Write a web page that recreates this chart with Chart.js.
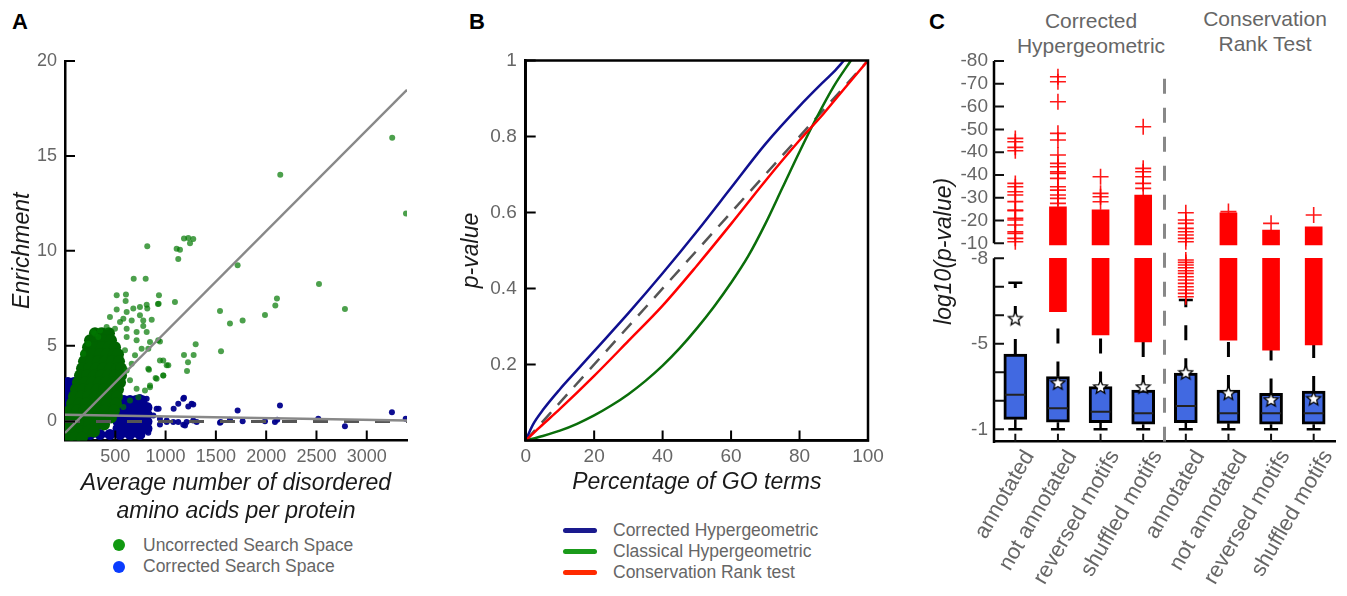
<!DOCTYPE html>
<html><head><meta charset="utf-8">
<script src="https://cdn.jsdelivr.net/npm/chart.js@4.4.1/dist/chart.umd.min.js"></script>
<style>
html,body{margin:0;padding:0;background:#fff;width:1347px;height:596px;overflow:hidden;font-family:"Liberation Sans",Arial,Helvetica,sans-serif;}
.abs{position:absolute;}
.letter{font-weight:bold;font-size:22px;line-height:22px;color:#000;}
.hdr{font-size:21px;line-height:25px;color:#666;text-align:center;width:200px;}
.legtxt{font-size:17.5px;line-height:21px;color:#666;white-space:nowrap;}
.dot{width:12px;height:12px;border-radius:6px;}
.ln{width:34px;height:5px;border-radius:2.5px;}
</style></head><body>
<div class="abs letter" style="left:12px;top:11px">A</div>
<div class="abs letter" style="left:469px;top:11px">B</div>
<div class="abs letter" style="left:929px;top:11px">C</div>
<div class="abs hdr" style="left:991px;top:8px">Corrected<br>Hypergeometric</div>
<div class="abs hdr" style="left:1165px;top:6px">Conservation<br>Rank Test</div>

<canvas id="cA" class="abs" style="left:0;top:0" width="430" height="530"></canvas>
<canvas id="cB" class="abs" style="left:440px;top:0" width="460" height="500"></canvas>
<canvas id="cC" class="abs" style="left:920px;top:0" width="427" height="596"></canvas>

<div class="abs dot" style="left:113px;top:539px;background:#119911"></div>
<div class="abs legtxt" style="left:143px;top:534.5px">Uncorrected Search Space</div>
<div class="abs dot" style="left:113px;top:560.7px;background:#0a3cff"></div>
<div class="abs legtxt" style="left:143px;top:556.2px">Corrected Search Space</div>

<div class="abs ln" style="left:563px;top:527.5px;background:#1a1a8e"></div>
<div class="abs legtxt" style="left:613px;top:519.5px">Corrected Hypergeometric</div>
<div class="abs ln" style="left:563px;top:548.5px;background:#1a9a1a"></div>
<div class="abs legtxt" style="left:613px;top:540.5px">Classical Hypergeometric</div>
<div class="abs ln" style="left:563px;top:569.5px;background:#ff2a00"></div>
<div class="abs legtxt" style="left:613px;top:561.5px">Conservation Rank test</div>

<script>
// ---------------- Panel A data ----------------
const xTicksA = [500, 1000, 1500, 2000, 2500, 3000];
const yTicksA = [1, 5, 10, 15, 20];
const yLabelsA = ['0', '5', '10', '15', '20'];
const fitUncorrected = [[0, 0.4], [3400, 18.48]];
const fitCorrected = [[0, 1.36], [3400, 1.06]];
const baselineA = [[0, 1], [3400, 1]];
const uncorrectedSpread = [
 [3253,15.95],[2140,14.0],[3390,11.96],[1716,9.23],[2525,8.25],[2107,7.48],[2091,7.12],[2783,6.93],
 [1541,6.82],[1766,6.32],[1640,6.16],[1988,6.61],[1551,4.71],[1299,5.07],[1183,4.5],[1279,4.5],
 [1223,4.13],[1213,3.66],[977,4.22],[1027,3.96],[944,5.22],[1093,7.3],[931,7.21],[862,6.37],
 [828,4.84],[977,3.43],[901,3.29],[835,3.73],[845,2.81],[778,6.03],
 [1183,10.64],[1226,10.67],[1275,10.62],[1243,10.4],[1110,10.1],[1143,10.05],[1126,9.57],[818,10.24],
 [802,8.53],[683,8.53],[514,7.65],[606,7.7],[934,7.65],[603,7.35],[924,7.19],[812,7.16],
 [514,6.9],[613,6.77],[679,6.95],[745,7.03],[818,6.95],[745,6.6],[580,6.42],[447,6.51],[547,6.24],
 [663,6.33],[778,6.33],[348,5.8],[298,5.63],[414,5.98],[497,5.89],[613,5.89],[712,5.72],[812,5.72],
 [845,5.19],[927,5.28],[762,4.84],[712,5.28],[613,5.45],[944,4.22],[1011,3.96],[828,3.78],[911,3.26],
 [977,3.43],[845,2.9],[795,2.64],[712,2.73],[646,3.17],[613,3.69],[663,4.05],[696,4.49],[596,4.75],
 [646,2.11],[580,1.76],[729,2.28],[281,5.72],[331,5.45],[232,5.1],[182,4.57]
];
const uncorrectedCore = [
 [298,5.65],[368,5.65],[437,5.65],
 [249,5.28],[318,5.28],[388,5.28],[457,5.28],
 [229,4.91],[298,4.91],[368,4.91],[437,4.91],[497,4.91],
 [209,4.54],[278,4.54],[348,4.54],[417,4.54],[487,4.54],[527,4.54],
 [189,4.17],[258,4.17],[328,4.17],[398,4.17],[467,4.17],[537,4.17],
 [169,3.8],[239,3.8],[308,3.8],[378,3.8],[447,3.8],[517,3.8],[557,3.8],
 [149,3.43],[219,3.43],[288,3.43],[358,3.43],[427,3.43],[497,3.43],[557,3.43],
 [129,3.06],[199,3.06],[268,3.06],[338,3.06],[408,3.06],[477,3.06],[547,3.06],
 [109,2.69],[179,2.69],[249,2.69],[318,2.69],[388,2.69],[457,2.69],[527,2.69],
 [89,2.32],[159,2.32],[229,2.32],[298,2.32],[368,2.32],[437,2.32],[517,2.32],
 [70,1.95],[139,1.95],[209,1.95],[278,1.95],[348,1.95],[417,1.95],[507,1.95],
 [50,1.58],[119,1.58],[189,1.58],[258,1.58],[328,1.58],[398,1.58],[487,1.58],
 [40,1.21],[109,1.21],[179,1.21],[249,1.21],[318,1.21],[388,1.21],[457,1.21],
 [30,0.84],[99,0.84],[169,0.84],[239,0.84],[308,0.84],[388,0.84],
 [20,0.47],[89,0.47],[159,0.47],[229,0.47],[288,0.47],
 [30,0.16],[99,0.16],[169,0.16]
];
const correctedSpread = [
 [1716,1.58],[2137,1.85],[3250,1.49],[1548,0.97],[1640,1.09],[1766,1.02],[1988,1.02],[2087,0.97],
 [2110,1.09],[2518,1.14],[2783,0.75],[3387,1.14],[1183,2.25],[1080,1.67],[1126,1.94],[1226,1.79],
 [1275,1.9],[931,1.67],[1176,0.83],[1209,0.97],[1275,1.06],[1541,0.93],[828,0.41],[1011,0.97],
 [1077,0.97],[812,2.2],[911,1.67],[1176,2.2],[1259,1.94],[1126,0.97],[1193,0.79],[1309,0.97],
 [944,0.84],[613,2.11],[745,2.29],[828,1.76],[878,1.32],[944,1.15],[1011,1.06],[745,0.88]
];
const correctedCore = [
 [30,3.06],[89,3.06],[30,2.69],[89,2.69],[30,2.32],[89,2.32],[30,1.95],[89,1.95],
 [30,1.58],[89,1.58],[30,1.21],[89,1.21],[30,0.84],[89,0.84],[30,0.47],[89,0.47],[139,2.9],[139,2.5],
 [527,2.11],[586,2.11],[646,2.11],[706,2.11],[765,2.11],
 [527,1.74],[586,1.74],[646,1.74],[706,1.74],[765,1.74],[815,1.74],
 [527,1.37],[586,1.37],[646,1.37],[706,1.37],[765,1.37],[815,1.37],
 [527,1.0],[586,1.0],[646,1.0],[706,1.0],[765,1.0],[815,1.0],
 [527,0.63],[586,0.63],[646,0.63],[706,0.63],[765,0.63],[815,0.63],
 [50,0.32],[149,0.32],[249,0.32],[348,0.32],[447,0.32],[547,0.32],[646,0.32],[745,0.32]
];

// ---------------- Panel B data ----------------
const pctTicks = [0, 20, 40, 60, 80, 100];
const pTicks = [0.2, 0.4, 0.6, 0.8, 1];
const correctedHyper = [[0,0],[2,0.04],[5,0.08],[10,0.135],[15,0.185],[20,0.235],[30,0.335],[40,0.44],[50,0.55],[60,0.665],[70,0.78],[80,0.88],[86,0.935],[90,0.97],[93,1.0]];
const classicalHyper = [[0,0],[5,0.012],[10,0.026],[15,0.044],[20,0.066],[25,0.092],[30,0.122],[35,0.157],[40,0.197],[45,0.243],[50,0.295],[55,0.352],[60,0.415],[65,0.485],[70,0.57],[75,0.665],[80,0.76],[85,0.85],[90,0.932],[95,1.0]];
const conservationRank = [[0,0],[4,0.034],[10,0.083],[20,0.17],[30,0.262],[40,0.355],[50,0.46],[60,0.57],[70,0.683],[80,0.79],[87,0.86],[93,0.925],[100,1.0]];
const diagonalB = [[0,0],[100,1]];

// ---------------- Panel C data (axis units of the broken axis) ----------------
const cCategories = ['annotated','not annotated','reversed motifs','shuffled motifs','annotated','not annotated','reversed motifs','shuffled motifs'];
const cTickPositions = [0,1,2,3,4,5,6,6.526,7.326,8.126,8.926,9.726,10.526,11.326,12.126,12.926];
const cTickLabels = ['-1','','','-5','','','-8','-10','-20','-30','-40','-40','-50','-60','-70','-80'];
const boxQ1 = [0.35,0.25,0.23,0.18,0.23,0.21,0.18,0.18];
const boxQ3 = [2.64,1.85,1.50,1.38,1.97,1.38,1.26,1.34];
const boxMedian = [1.21,0.74,0.62,0.56,0.82,0.56,0.56,0.56];
const whiskerLow = [0,0,0,0,0,0,0,0];
const whiskerHigh = [5.14,4.28,3.46,3.22,4.54,3.28,2.93,3.11];
const boxMean = [3.90,1.64,1.50,1.50,2.00,1.28,1.05,1.09];
const denseLowStart = [null,4.13,3.31,3.07,null,3.13,2.78,2.96];
const denseLowEnd = 6.0;
const denseHighStart = 6.47;
const denseHighEnd = [null,7.81,7.70,8.22,null,7.60,6.99,7.11];
const outliers = [
 [0,10.21],[0,10.09],[0,9.895],[0,9.775],[0,8.631],[0,8.512],[0,8.337],[0,8.221],[0,7.99],[0,7.695],[0,7.67],
 [0,7.403],[0,7.344],[0,7.17],[0,6.933],[0,6.877],[0,6.702],[0,6.582],
 [1,12.372],[1,12.197],[1,11.495],[1,10.386],[1,10.151],[1,9.625],[1,9.333],[1,9.214],[1,9.039],[1,8.982],
 [1,8.807],[1,8.512],[1,8.396],[1,8.221],[1,8.105],[1,7.93],
 [2,8.863],[2,8.281],[2,8.161],[2,7.986],
 [3,10.617],[3,9.158],[3,9.039],[3,8.863],[3,8.631],[3,8.456],
 [4,7.6],[4,7.344],[4,7.228],[4,7.052],[4,6.933],[4,6.818],[4,6.702],[4,6.582],
 [4,5.94],[4,5.858],[4,5.765],[4,5.67],[4,5.565],[4,5.473],[4,5.354],[4,5.239],[4,5.122],[4,5.003],[4,4.887],[4,4.77],[4,4.652],
 [5,7.64],[6,7.228],[7,7.519]
];
const separatorX = 3.5;
const separatorSpan = [-0.435, 12.4];

// ---------------- helpers ----------------
Chart.defaults.font.family = '"Liberation Sans", Arial, Helvetica, sans-serif';
Chart.defaults.color = '#666';
const pts = arr => arr.map(([x, y]) => ({x, y}));

const decor = {
  id: 'decor',
  afterDraw(chart, args, o) {
    const ctx = chart.ctx, ca = chart.chartArea;
    ctx.save();
    ctx.lineCap = 'butt';
    if (o.frame) {
      ctx.strokeStyle = '#000'; ctx.lineWidth = o.frame;
      ctx.strokeRect(ca.left, ca.top, ca.right - ca.left, ca.bottom - ca.top);
    }
    if (o.breakLow !== undefined) {
      const s = chart.scales.y;
      ctx.strokeStyle = '#000'; ctx.lineWidth = 2.5;
      ctx.beginPath();
      ctx.moveTo(ca.left, ca.bottom + 1.25);
      ctx.lineTo(ca.left, s.getPixelForValue(o.breakLow));
      ctx.moveTo(ca.left, s.getPixelForValue(o.breakHigh));
      ctx.lineTo(ca.left, ca.top);
      ctx.stroke();
    }
    ctx.strokeStyle = o.tickColor || '#000';
    ctx.lineWidth = o.tickWidth || 2;
    if (o.tickX) {
      const s = chart.scales.x; ctx.beginPath();
      s.ticks.forEach(t => { const p = s.getPixelForValue(t.value); ctx.moveTo(p, ca.bottom); ctx.lineTo(p, ca.bottom - o.tickX); });
      ctx.stroke();
    }
    if (o.tickY) {
      const s = chart.scales.y; ctx.beginPath();
      s.ticks.forEach(t => { const p = s.getPixelForValue(t.value); ctx.moveTo(ca.left, p); ctx.lineTo(ca.left + o.tickY, p); });
      ctx.stroke();
    }
    ctx.restore();
  }
};

const common = {
  responsive: false, animation: false, events: [],
  plugins: { legend: { display: false }, tooltip: { enabled: false } }
};

// ---------------- Panel A ----------------
new Chart(document.getElementById('cA'), {
  type: 'scatter',
  data: { datasets: [
    { type: 'line', data: pts(fitUncorrected), borderColor: '#888', borderWidth: 2.5, pointRadius: 0, order: 0 },
    { type: 'line', data: pts(fitCorrected), borderColor: '#888', borderWidth: 2.5, pointRadius: 0, order: 0 },
    { type: 'line', data: pts(baselineA), borderColor: '#555', borderWidth: 3, borderDash: [15, 16], pointRadius: 0, order: 1 },
    { data: pts(uncorrectedSpread), backgroundColor: 'rgba(0,120,0,0.7)', borderWidth: 0, pointRadius: 3, order: 2 },
    { data: pts(uncorrectedCore), backgroundColor: 'rgb(0,100,0)', borderWidth: 0, pointRadius: 6, order: 3 },
    { data: pts(correctedSpread), backgroundColor: 'rgba(0,0,140,0.95)', borderWidth: 0, pointRadius: 3, order: 4 },
    { data: pts(correctedCore), backgroundColor: 'rgb(0,0,140)', borderWidth: 0, pointRadius: 5.5, order: 5 }
  ]},
  options: { ...common,
    layout: { padding: { top: 61, right: 23, left: 0, bottom: 0 } },
    plugins: { ...common.plugins, decor: { tickX: 10, tickY: 10, tickWidth: 2 } },
    scales: {
      x: { type: 'linear', min: 0, max: 3400,
        afterBuildTicks: s => { s.ticks = xTicksA.map(v => ({ value: v })); },
        afterFit: s => { s.height = 530 - 440.5; },
        grid: { display: false, drawTicks: false }, border: { display: true, color: '#000', width: 2.5 },
        ticks: { padding: 6, font: { size: 18 }, color: '#666', autoSkip: false, maxRotation: 0, callback: v => String(v) },
        title: { display: true, text: ['Average number of disordered', 'amino acids per protein'], color: '#1a1a1a',
          font: { size: 23, style: 'italic', lineHeight: 1.235 }, padding: { top: 0, bottom: 4 } } },
      y: { type: 'linear', min: 0, max: 20,
        afterBuildTicks: s => { s.ticks = yTicksA.map(v => ({ value: v })); },
        afterFit: s => { s.width = 65; },
        grid: { display: false, drawTicks: false }, border: { display: true, color: '#000', width: 2.5 },
        ticks: { padding: 8, font: { size: 18 }, color: '#666', autoSkip: false, callback: (v, i) => yLabelsA[i] },
        title: { display: true, text: 'Enrichment', color: '#1a1a1a', font: { size: 23, style: 'italic' }, padding: { top: 9, bottom: 0 } } }
    }
  },
  plugins: [decor]
});

// ---------------- Panel B ----------------
const lineB = (d, color, extra) => Object.assign({ data: pts(d), showLine: true, borderColor: color, borderWidth: 2.5, pointRadius: 0, cubicInterpolationMode: 'monotone', fill: false }, extra || {});
new Chart(document.getElementById('cB'), {
  type: 'scatter',
  data: { datasets: [
    lineB(correctedHyper, '#101090', { order: 1 }),
    lineB(classicalHyper, '#0a6e0a', { order: 2 }),
    lineB(conservationRank, '#ff0000', { order: 0 }),
    lineB(diagonalB, '#555', { borderDash: [14, 10], order: 3 })
  ]},
  options: { ...common,
    layout: { padding: { top: 60.5, right: 32, left: 0, bottom: 0 } },
    plugins: { ...common.plugins, decor: { frame: 2.5, tickX: 10, tickY: 10, tickWidth: 2 } },
    scales: {
      x: { type: 'linear', min: 0, max: 100,
        afterBuildTicks: s => { s.ticks = pctTicks.map(v => ({ value: v })); },
        afterFit: s => { s.height = 500 - 440.5; },
        grid: { display: false, drawTicks: false }, border: { display: true, color: '#000', width: 2.5 },
        ticks: { padding: 5, font: { size: 19 }, color: '#666', autoSkip: false, maxRotation: 0, callback: v => String(v) },
        title: { display: true, text: 'Percentage of GO terms', color: '#1a1a1a', font: { size: 23, style: 'italic' }, padding: { top: 0, bottom: 3.5 } } },
      y: { type: 'linear', min: 0, max: 1,
        afterBuildTicks: s => { s.ticks = pTicks.map(v => ({ value: v })); },
        afterFit: s => { s.width = 85.7; },
        grid: { display: false, drawTicks: false }, border: { display: true, color: '#000', width: 2.5 },
        ticks: { padding: 9, font: { size: 19 }, color: '#666', autoSkip: false, callback: v => String(v) },
        title: { display: true, text: 'p-value', color: '#1a1a1a', font: { size: 23, style: 'italic' }, padding: { top: 18, bottom: 0 } } }
    }
  },
  plugins: [decor]
});

// ---------------- Panel C ----------------
function makeStar(size) {
  const c = document.createElement('canvas'); c.width = c.height = size;
  const g = c.getContext('2d'); const cx = size / 2, cy = size / 2 + 0.7, R = size / 2 - 1.3, r = R * 0.45;
  g.beginPath();
  for (let k = 0; k < 10; k++) { const a = -Math.PI / 2 + k * Math.PI / 5, rr = k % 2 ? r : R; g.lineTo(cx + rr * Math.cos(a), cy + rr * Math.sin(a)); }
  g.closePath(); g.fillStyle = '#fff'; g.fill(); g.lineWidth = 1.3; g.strokeStyle = '#000'; g.stroke();
  return c;
}
const starImg = makeStar(17);
const idx = cCategories.map((_, i) => i);
const whiskerUpPts = []; idx.forEach(i => whiskerUpPts.push({ x: i, y: boxQ3[i] }, { x: i, y: whiskerHigh[i] }, { x: i, y: null }));
const whiskerLowPts = []; idx.forEach(i => whiskerLowPts.push({ x: i, y: boxQ1[i] }, { x: i, y: whiskerLow[i] }, { x: i, y: null }));
const capPts = idx.map(i => ({ x: i, y: whiskerHigh[i] })).concat(idx.map(i => ({ x: i, y: whiskerLow[i] })));

new Chart(document.getElementById('cC'), {
  type: 'bar',
  data: { datasets: [
    { type: 'scatter', data: idx.map(i => ({ x: i, y: boxMean[i] })), pointStyle: starImg, pointRadius: 8, order: 0 },
    { type: 'scatter', data: outliers.map(([i, v]) => ({ x: i, y: v })), pointStyle: 'cross', pointRadius: 8, borderColor: 'rgba(255,0,0,0.9)', borderWidth: 1.6, order: 1 },
    { type: 'bar', data: idx.filter(i => denseLowStart[i] !== null).map(i => ({ x: i, y: [denseLowStart[i], denseLowEnd] })), backgroundColor: '#ff0000', barThickness: 17, grouped: false, borderWidth: 0, order: 2 },
    { type: 'bar', data: idx.filter(i => denseHighEnd[i] !== null).map(i => ({ x: i, y: [denseHighStart, denseHighEnd[i]] })), backgroundColor: '#ff0000', barThickness: 17, grouped: false, borderWidth: 0, order: 2 },
    { type: 'scatter', data: idx.map(i => ({ x: i, y: boxMedian[i] })), pointStyle: 'line', pointRadius: 10, borderColor: '#222', borderWidth: 2, order: 3 },
    { type: 'bar', data: idx.map(i => ({ x: i, y: [boxQ1[i], boxQ3[i]] })), backgroundColor: '#4169e1', borderColor: '#000', borderWidth: 3, borderSkipped: false, barThickness: 23, grouped: false, order: 4 },
    { type: 'scatter', data: capPts, pointStyle: 'line', pointRadius: 7, borderColor: '#000', borderWidth: 2.5, order: 5 },
    { type: 'line', data: whiskerUpPts, borderColor: '#000', borderWidth: 3, borderDash: [15, 18], pointRadius: 0, spanGaps: false, order: 6 },
    { type: 'line', data: whiskerLowPts, borderColor: '#000', borderWidth: 2.5, pointRadius: 0, spanGaps: false, order: 6 },
    { type: 'line', data: [{ x: separatorX, y: separatorSpan[0] }, { x: separatorX, y: separatorSpan[1] }], borderColor: '#888', borderWidth: 3, borderDash: [15, 14], pointRadius: 0, order: 7 }
  ]},
  options: { ...common,
    layout: { padding: { top: 61, right: 7, left: 0, bottom: 0 } },
    plugins: { ...common.plugins, decor: { breakLow: 6.0, breakHigh: 6.526, tickX: 8, tickY: 10, tickWidth: 2, tickColor: '#111' } },
    scales: {
      x: { type: 'linear', min: -0.5, max: 7.5, offset: false,
        afterBuildTicks: s => { s.ticks = idx.map(v => ({ value: v })); },
        afterFit: s => { s.height = 596 - 441.7; },
        grid: { display: false, drawTicks: false }, border: { display: true, color: '#000', width: 2.5 },
        ticks: { padding: 4, labelOffset: 14, font: { size: 22 }, color: '#666', autoSkip: false, minRotation: 60, maxRotation: 60, callback: (v, i) => cCategories[i] } },
      y: { type: 'linear', min: -0.435, max: 12.926,
        afterBuildTicks: s => { s.ticks = cTickPositions.map(v => ({ value: v })); },
        afterFit: s => { s.width = 74; },
        grid: { display: false, drawTicks: false }, border: { display: false },
        ticks: { padding: 6, font: { size: 19 }, color: '#666', autoSkip: false, callback: (v, i) => cTickLabels[i] },
        title: { display: true, text: 'log10(p-value)', color: '#1a1a1a', font: { size: 23, style: 'italic' }, padding: { top: 11, bottom: 0 } } }
    }
  },
  plugins: [decor]
});
</script>
</body></html>
